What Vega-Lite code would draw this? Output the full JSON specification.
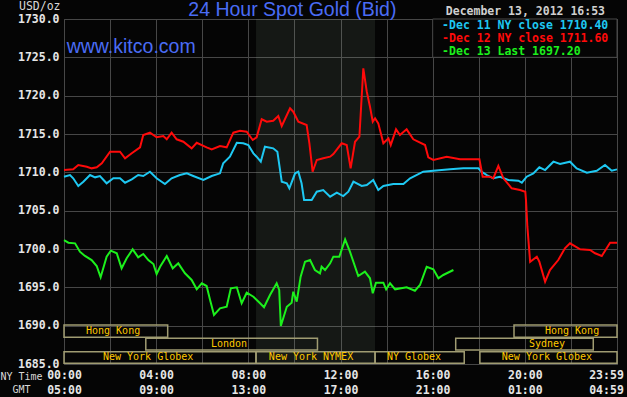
{
"$schema": "https://vega.github.io/schema/vega-lite/v6.json",
"width": 553, "height": 345,
"autosize": {"type": "none"},
"padding": {"left": 64, "top": 19, "right": 10, "bottom": 33},
"background": "#050505",
"config": {"view": {"stroke": "#4a4a4a", "strokeWidth": 1, "fill": "#050505"},
  "axis": {"labelOverlap": false, "labelFlush": false, "labelBound": false}},
"datasets": {
"prices": [
{"series":"Dec 11","hour":0,"price":1709.43},{"series":"Dec 11","hour":0.26,"price":1709.65},{"series":"Dec 11","hour":0.40,"price":1709.22},{"series":"Dec 11","hour":0.62,"price":1708.22},{"series":"Dec 11","hour":0.84,"price":1708.78},{"series":"Dec 11","hour":1.13,"price":1709.65},{"series":"Dec 11","hour":1.35,"price":1709.35},{"series":"Dec 11","hour":1.56,"price":1709.52},{"series":"Dec 11","hour":1.85,"price":1708.57},{"series":"Dec 11","hour":2.14,"price":1709.22},{"series":"Dec 11","hour":2.43,"price":1709.22},{"series":"Dec 11","hour":2.65,"price":1708.65},{"series":"Dec 11","hour":2.94,"price":1709.09},{"series":"Dec 11","hour":3.22,"price":1709.65},{"series":"Dec 11","hour":3.44,"price":1709.52},{"series":"Dec 11","hour":3.73,"price":1710.08},{"series":"Dec 11","hour":4.02,"price":1709.22},{"series":"Dec 11","hour":4.38,"price":1708.48},{"series":"Dec 11","hour":4.67,"price":1709.22},{"series":"Dec 11","hour":5.03,"price":1709.65},{"series":"Dec 11","hour":5.33,"price":1709.87},{"series":"Dec 11","hour":5.61,"price":1709.52},{"series":"Dec 11","hour":6.05,"price":1709.00},{"series":"Dec 11","hour":6.41,"price":1709.52},{"series":"Dec 11","hour":6.77,"price":1709.87},{"series":"Dec 11","hour":6.91,"price":1711.18},{"series":"Dec 11","hour":7.20,"price":1712.04},{"series":"Dec 11","hour":7.50,"price":1713.86},{"series":"Dec 11","hour":7.78,"price":1713.79},{"series":"Dec 11","hour":8.00,"price":1713.56},{"series":"Dec 11","hour":8.22,"price":1712.48},{"series":"Dec 11","hour":8.36,"price":1712.04},{"series":"Dec 11","hour":8.54,"price":1711.39},{"series":"Dec 11","hour":8.72,"price":1713.34},{"series":"Dec 11","hour":9.08,"price":1713.13},{"series":"Dec 11","hour":9.26,"price":1712.69},{"series":"Dec 11","hour":9.45,"price":1708.78},{"series":"Dec 11","hour":9.67,"price":1708.57},{"series":"Dec 11","hour":9.78,"price":1707.92},{"series":"Dec 11","hour":10.03,"price":1709.87},{"series":"Dec 11","hour":10.17,"price":1710.08},{"series":"Dec 11","hour":10.31,"price":1708.57},{"series":"Dec 11","hour":10.42,"price":1706.39},{"series":"Dec 11","hour":10.75,"price":1706.39},{"series":"Dec 11","hour":10.97,"price":1707.47},{"series":"Dec 11","hour":11.25,"price":1707.69},{"series":"Dec 11","hour":11.55,"price":1706.82},{"series":"Dec 11","hour":11.84,"price":1707.34},{"series":"Dec 11","hour":12.12,"price":1706.91},{"series":"Dec 11","hour":12.34,"price":1707.47},{"series":"Dec 11","hour":12.56,"price":1708.78},{"series":"Dec 11","hour":12.92,"price":1708.22},{"series":"Dec 11","hour":13.14,"price":1708.35},{"series":"Dec 11","hour":13.42,"price":1709.00},{"series":"Dec 11","hour":13.64,"price":1707.69},{"series":"Dec 11","hour":13.86,"price":1708.22},{"series":"Dec 11","hour":14.29,"price":1708.48},{"series":"Dec 11","hour":14.73,"price":1708.48},{"series":"Dec 11","hour":15.02,"price":1709.22},{"series":"Dec 11","hour":15.59,"price":1710.08},{"series":"Dec 11","hour":16.03,"price":1710.21},{"series":"Dec 11","hour":16.75,"price":1710.39},{"series":"Dec 11","hour":17.33,"price":1710.52},{"series":"Dec 11","hour":17.98,"price":1710.52},{"series":"Dec 11","hour":18.13,"price":1710.08},{"series":"Dec 11","hour":18.35,"price":1709.65},{"series":"Dec 11","hour":18.63,"price":1709.22},{"series":"Dec 11","hour":18.92,"price":1709.43},{"series":"Dec 11","hour":19.28,"price":1709.00},{"series":"Dec 11","hour":19.72,"price":1708.91},{"series":"Dec 11","hour":19.87,"price":1708.65},{"series":"Dec 11","hour":20.08,"price":1709.43},{"series":"Dec 11","hour":20.37,"price":1709.87},{"series":"Dec 11","hour":20.63,"price":1710.66},{"series":"Dec 11","hour":20.88,"price":1710.30},{"series":"Dec 11","hour":21.24,"price":1711.39},{"series":"Dec 11","hour":21.53,"price":1711.09},{"series":"Dec 11","hour":21.96,"price":1711.39},{"series":"Dec 11","hour":22.25,"price":1710.52},{"series":"Dec 11","hour":22.69,"price":1709.95},{"series":"Dec 11","hour":23.12,"price":1710.21},{"series":"Dec 11","hour":23.48,"price":1710.96},{"series":"Dec 11","hour":23.77,"price":1710.21},{"series":"Dec 11","hour":24,"price":1710.39},
{"series":"Dec 12","hour":0,"price":1710.30},{"series":"Dec 12","hour":0.40,"price":1710.39},{"series":"Dec 12","hour":0.62,"price":1710.96},{"series":"Dec 12","hour":0.99,"price":1710.73},{"series":"Dec 12","hour":1.20,"price":1710.52},{"series":"Dec 12","hour":1.42,"price":1710.66},{"series":"Dec 12","hour":1.64,"price":1711.18},{"series":"Dec 12","hour":2.00,"price":1712.69},{"series":"Dec 12","hour":2.43,"price":1712.69},{"series":"Dec 12","hour":2.65,"price":1711.83},{"series":"Dec 12","hour":2.94,"price":1712.48},{"series":"Dec 12","hour":3.30,"price":1713.26},{"series":"Dec 12","hour":3.44,"price":1714.87},{"series":"Dec 12","hour":3.73,"price":1715.17},{"series":"Dec 12","hour":4.02,"price":1714.57},{"series":"Dec 12","hour":4.31,"price":1714.74},{"series":"Dec 12","hour":4.46,"price":1714.31},{"series":"Dec 12","hour":4.67,"price":1715.17},{"series":"Dec 12","hour":4.89,"price":1714.31},{"series":"Dec 12","hour":5.18,"price":1713.99},{"series":"Dec 12","hour":5.54,"price":1713.13},{"series":"Dec 12","hour":5.76,"price":1713.86},{"series":"Dec 12","hour":6.19,"price":1713.26},{"series":"Dec 12","hour":6.41,"price":1713.00},{"series":"Dec 12","hour":6.77,"price":1713.43},{"series":"Dec 12","hour":7.06,"price":1713.26},{"series":"Dec 12","hour":7.35,"price":1715.17},{"series":"Dec 12","hour":7.64,"price":1715.43},{"series":"Dec 12","hour":7.93,"price":1715.30},{"series":"Dec 12","hour":8.19,"price":1714.22},{"series":"Dec 12","hour":8.36,"price":1714.57},{"series":"Dec 12","hour":8.58,"price":1716.92},{"series":"Dec 12","hour":8.80,"price":1716.60},{"series":"Dec 12","hour":9.08,"price":1716.73},{"series":"Dec 12","hour":9.30,"price":1717.35},{"series":"Dec 12","hour":9.45,"price":1716.04},{"series":"Dec 12","hour":9.81,"price":1718.35},{"series":"Dec 12","hour":9.95,"price":1717.91},{"series":"Dec 12","hour":10.17,"price":1716.60},{"series":"Dec 12","hour":10.53,"price":1716.17},{"series":"Dec 12","hour":10.65,"price":1713.79},{"series":"Dec 12","hour":10.79,"price":1710.08},{"series":"Dec 12","hour":10.97,"price":1711.61},{"series":"Dec 12","hour":11.25,"price":1711.83},{"series":"Dec 12","hour":11.55,"price":1712.04},{"series":"Dec 12","hour":11.69,"price":1712.39},{"series":"Dec 12","hour":12.05,"price":1713.79},{"series":"Dec 12","hour":12.27,"price":1713.56},{"series":"Dec 12","hour":12.44,"price":1710.52},{"series":"Dec 12","hour":12.63,"price":1713.99},{"series":"Dec 12","hour":12.82,"price":1714.65},{"series":"Dec 12","hour":12.99,"price":1723.57},{"series":"Dec 12","hour":13.14,"price":1720.52},{"series":"Dec 12","hour":13.28,"price":1718.56},{"series":"Dec 12","hour":13.40,"price":1716.60},{"series":"Dec 12","hour":13.50,"price":1717.05},{"series":"Dec 12","hour":13.64,"price":1716.39},{"series":"Dec 12","hour":13.86,"price":1713.79},{"series":"Dec 12","hour":14.08,"price":1714.44},{"series":"Dec 12","hour":14.18,"price":1713.56},{"series":"Dec 12","hour":14.41,"price":1715.61},{"series":"Dec 12","hour":14.58,"price":1714.87},{"series":"Dec 12","hour":14.87,"price":1715.61},{"series":"Dec 12","hour":15.16,"price":1714.31},{"series":"Dec 12","hour":15.67,"price":1713.56},{"series":"Dec 12","hour":15.81,"price":1711.96},{"series":"Dec 12","hour":16.03,"price":1711.61},{"series":"Dec 12","hour":16.61,"price":1712.04},{"series":"Dec 12","hour":17.19,"price":1711.70},{"series":"Dec 12","hour":18.03,"price":1711.70},{"series":"Dec 12","hour":18.17,"price":1709.43},{"series":"Dec 12","hour":18.49,"price":1709.43},{"series":"Dec 12","hour":18.63,"price":1709.22},{"series":"Dec 12","hour":18.85,"price":1710.83},{"series":"Dec 12","hour":19.07,"price":1709.22},{"series":"Dec 12","hour":19.43,"price":1707.92},{"series":"Dec 12","hour":19.79,"price":1707.69},{"series":"Dec 12","hour":20.02,"price":1707.47},{"series":"Dec 12","hour":20.05,"price":1706.39},{"series":"Dec 12","hour":20.11,"price":1702.91},{"series":"Dec 12","hour":20.23,"price":1698.34},{"series":"Dec 12","hour":20.52,"price":1699.00},{"series":"Dec 12","hour":20.63,"price":1698.34},{"series":"Dec 12","hour":20.88,"price":1695.73},{"series":"Dec 12","hour":21.09,"price":1697.26},{"series":"Dec 12","hour":21.45,"price":1698.56},{"series":"Dec 12","hour":21.74,"price":1700.09},{"series":"Dec 12","hour":21.96,"price":1700.74},{"series":"Dec 12","hour":22.40,"price":1699.96},{"series":"Dec 12","hour":22.83,"price":1699.87},{"series":"Dec 12","hour":23.05,"price":1699.44},{"series":"Dec 12","hour":23.34,"price":1699.09},{"series":"Dec 12","hour":23.70,"price":1700.82},{"series":"Dec 12","hour":24,"price":1700.82},
{"series":"Dec 13","hour":0,"price":1701.17},{"series":"Dec 13","hour":0.19,"price":1700.82},{"series":"Dec 13","hour":0.48,"price":1700.74},{"series":"Dec 13","hour":0.69,"price":1699.65},{"series":"Dec 13","hour":0.91,"price":1699.09},{"series":"Dec 13","hour":1.20,"price":1698.56},{"series":"Dec 13","hour":1.42,"price":1697.78},{"series":"Dec 13","hour":1.59,"price":1696.31},{"series":"Dec 13","hour":1.85,"price":1699.00},{"series":"Dec 13","hour":2.03,"price":1699.78},{"series":"Dec 13","hour":2.29,"price":1699.44},{"series":"Dec 13","hour":2.50,"price":1697.48},{"series":"Dec 13","hour":2.72,"price":1698.79},{"series":"Dec 13","hour":2.98,"price":1699.96},{"series":"Dec 13","hour":3.22,"price":1698.92},{"series":"Dec 13","hour":3.44,"price":1699.35},{"series":"Dec 13","hour":3.66,"price":1698.56},{"series":"Dec 13","hour":3.88,"price":1698.04},{"series":"Dec 13","hour":4.02,"price":1696.74},{"series":"Dec 13","hour":4.17,"price":1697.69},{"series":"Dec 13","hour":4.46,"price":1699.09},{"series":"Dec 13","hour":4.72,"price":1697.48},{"series":"Dec 13","hour":4.96,"price":1698.13},{"series":"Dec 13","hour":5.25,"price":1696.83},{"series":"Dec 13","hour":5.54,"price":1695.96},{"series":"Dec 13","hour":5.76,"price":1694.74},{"series":"Dec 13","hour":5.98,"price":1695.53},{"series":"Dec 13","hour":6.19,"price":1695.17},{"series":"Dec 13","hour":6.34,"price":1693.35},{"series":"Dec 13","hour":6.51,"price":1691.39},{"series":"Dec 13","hour":6.77,"price":1692.26},{"series":"Dec 13","hour":7.06,"price":1692.47},{"series":"Dec 13","hour":7.24,"price":1694.87},{"series":"Dec 13","hour":7.50,"price":1695.00},{"series":"Dec 13","hour":7.71,"price":1692.92},{"series":"Dec 13","hour":7.93,"price":1694.30},{"series":"Dec 13","hour":8.22,"price":1693.78},{"series":"Dec 13","hour":8.51,"price":1692.92},{"series":"Dec 13","hour":8.68,"price":1692.40},{"series":"Dec 13","hour":8.94,"price":1694.00},{"series":"Dec 13","hour":9.23,"price":1695.53},{"series":"Dec 13","hour":9.34,"price":1694.65},{"series":"Dec 13","hour":9.41,"price":1689.96},{"series":"Dec 13","hour":9.67,"price":1692.47},{"series":"Dec 13","hour":9.88,"price":1693.00},{"series":"Dec 13","hour":9.95,"price":1694.43},{"series":"Dec 13","hour":10.10,"price":1693.13},{"series":"Dec 13","hour":10.27,"price":1696.39},{"series":"Dec 13","hour":10.46,"price":1698.34},{"series":"Dec 13","hour":10.68,"price":1698.56},{"series":"Dec 13","hour":10.89,"price":1697.26},{"series":"Dec 13","hour":11.11,"price":1696.83},{"series":"Dec 13","hour":11.18,"price":1697.69},{"series":"Dec 13","hour":11.33,"price":1697.26},{"series":"Dec 13","hour":11.55,"price":1698.13},{"series":"Dec 13","hour":11.69,"price":1699.00},{"series":"Dec 13","hour":11.95,"price":1699.00},{"series":"Dec 13","hour":12.20,"price":1701.26},{"series":"Dec 13","hour":12.41,"price":1699.65},{"series":"Dec 13","hour":12.77,"price":1696.48},{"series":"Dec 13","hour":13.06,"price":1697.04},{"series":"Dec 13","hour":13.28,"price":1696.18},{"series":"Dec 13","hour":13.40,"price":1694.22},{"series":"Dec 13","hour":13.54,"price":1695.60},{"series":"Dec 13","hour":13.86,"price":1695.60},{"series":"Dec 13","hour":13.98,"price":1694.74},{"series":"Dec 13","hour":14.15,"price":1695.53},{"series":"Dec 13","hour":14.37,"price":1694.74},{"series":"Dec 13","hour":14.87,"price":1695.00},{"series":"Dec 13","hour":15.23,"price":1694.56},{"series":"Dec 13","hour":15.45,"price":1695.30},{"series":"Dec 13","hour":15.74,"price":1697.69},{"series":"Dec 13","hour":16.03,"price":1697.35},{"series":"Dec 13","hour":16.25,"price":1696.18},{"series":"Dec 13","hour":16.46,"price":1696.61},{"series":"Dec 13","hour":16.90,"price":1697.26}
],
"sessions": [
{"session":"Hong Kong","hour":0,"hour2":4.5,"price":1690.09,"price2":1688.48,"label_hour":2.13,"label_price":1689.30},
{"session":"London","hour":3.55,"hour2":11.0,"price":1688.35,"price2":1686.83,"label_hour":7.16,"label_price":1687.61},
{"session":"New York Globex","hour":0,"hour2":8.333,"price":1686.6,"price2":1685.09,"label_hour":3.65,"label_price":1685.85},
{"session":"New York NYMEX","hour":8.333,"hour2":13.5,"price":1686.6,"price2":1685.09,"label_hour":10.72,"label_price":1685.85},
{"session":"NY Globex","hour":13.5,"hour2":17.37,"price":1686.6,"price2":1685.09,"label_hour":15.19,"label_price":1685.85},
{"session":"New York Globex","hour":18.05,"hour2":24,"price":1686.6,"price2":1685.09,"label_hour":20.96,"label_price":1685.85},
{"session":"Sydney","hour":17.0,"hour2":22.97,"price":1688.35,"price2":1686.83,"label_hour":20.96,"label_price":1687.61},
{"session":"Hong Kong","hour":19.53,"hour2":24,"price":1690.09,"price2":1688.48,"label_hour":22.05,"label_price":1689.30}
]
},
"layer": [
{"data": {"values": [{"session": "New York NYMEX", "hour": 8.333, "hour2": 13.5}]},
 "mark": {"type": "rect", "fill": "#a5c3a5", "opacity": 0.1},
 "encoding": {
  "x": {"field": "hour", "type": "quantitative",
   "scale": {"domain": [0, 24], "nice": false, "zero": false},
   "axis": {"values": [0,2,4,6,8,10,12,14,16,18,20,22,24], "tickCount": 30,
    "labelExpr": "datum.value == 24 ? ['23:59', '04:59'] : (datum.value % 4 == 0 ? [format(datum.value, '02d') + ':00', format((datum.value + 5) % 24, '02d') + ':00'] : '')",
    "labelFlush": false, "labelOverlap": false, "labelBound": false,
    "labelFont": "DejaVu Sans Mono", "labelFontSize": 11.5, "labelFontWeight": "bold", "labelColor": "#e6e6e6",
    "labelBaseline": "top", "labelPadding": 5, "labelLineHeight": 15.5,
    "labelOffset": {"condition": {"test": "datum.value == 24", "value": -11}, "value": 0},
    "ticks": false, "domain": false, "grid": true, "gridColor": "#474747", "gridOpacity": 1,
    "title": ["NY Time", "GMT"], "titleX": -43, "titleY": 7, "titleAlign": "center", "titleBaseline": "top",
    "titleLineHeight": 13.5, "titleFont": "DejaVu Sans Mono", "titleFontSize": 10, "titleFontWeight": "normal", "titleColor": "#d8d8d8"}},
  "x2": {"field": "hour2"}}},
{"data": {"name": "prices"},
 "mark": {"type": "line", "strokeWidth": 2},
 "encoding": {
  "x": {"field": "hour", "type": "quantitative"},
  "y": {"field": "price", "type": "quantitative",
   "scale": {"domain": [1685, 1730], "nice": false, "zero": false},
   "axis": {"values": [1685,1690,1695,1700,1705,1710,1715,1720,1725,1730], "tickCount": 30, "format": ".1f",
    "labelFont": "DejaVu Sans Mono", "labelFontSize": 11.5, "labelFontWeight": "bold", "labelColor": "#e6e6e6",
    "labelPadding": 5, "labelOverlap": false, "labelFlush": false, "labelBound": false,
    "ticks": false, "domain": false, "grid": true, "gridColor": "#474747", "gridOpacity": 1,
    "title": "USD/oz", "titleAngle": 0, "titleAlign": "right", "titleBaseline": "middle", "titleX": -4, "titleY": -12.5,
    "titleFont": "DejaVu Sans Mono", "titleFontSize": 11.5, "titleFontWeight": "normal", "titleColor": "#d8d8d8"}},
  "color": {"field": "series", "type": "nominal",
   "scale": {"domain": ["Dec 11", "Dec 12", "Dec 13"], "range": ["#1ec8f2", "#ff0a0a", "#1cf01c"]}, "legend": null}}},
{"data": {"values": [{"box": "legend", "hour": 16, "hour2": 24, "price": 1725, "price2": 1730}]},
 "mark": {"type": "rect", "fill": "#050505", "stroke": "#4a4a4a", "strokeWidth": 1},
 "encoding": {"x": {"field": "hour", "type": "quantitative"}, "x2": {"field": "hour2"},
  "y": {"field": "price", "type": "quantitative"}, "y2": {"field": "price2"}}},
{"data": {"values": [
  {"series": "Dec 11", "label": "-Dec 11 NY close 1710.40", "hour": 16.41, "price": 1729.15},
  {"series": "Dec 12", "label": "-Dec 12 NY close 1711.60", "hour": 16.41, "price": 1727.41},
  {"series": "Dec 13", "label": "-Dec 13 Last 1697.20", "hour": 16.41, "price": 1725.74}]},
 "mark": {"type": "text", "align": "left", "baseline": "middle", "font": "DejaVu Sans Mono", "fontSize": 11.5, "fontWeight": "bold"},
 "encoding": {"x": {"field": "hour", "type": "quantitative"}, "y": {"field": "price", "type": "quantitative"},
  "text": {"field": "label"},
  "color": {"field": "series", "type": "nominal", "legend": null}}},
{"data": {"name": "sessions"},
 "mark": {"type": "rect", "fillOpacity": 0, "stroke": "#a09c72", "strokeWidth": 1.5},
 "encoding": {"x": {"field": "hour", "type": "quantitative"}, "x2": {"field": "hour2"},
  "y": {"field": "price", "type": "quantitative"}, "y2": {"field": "price2"}}},
{"data": {"name": "sessions"},
 "mark": {"type": "text", "align": "center", "baseline": "middle", "font": "DejaVu Sans Mono", "fontSize": 10, "color": "#ffc800"},
 "encoding": {"x": {"field": "label_hour", "type": "quantitative"}, "y": {"field": "label_price", "type": "quantitative"},
  "text": {"field": "session"}}},
{"data": {"values": [{"text": "24 Hour Spot Gold (Bid)", "hour": 5.395, "price": 1730.4}]},
 "mark": {"type": "text", "align": "left", "baseline": "alphabetic", "font": "Liberation Sans", "fontSize": 19.5, "color": "#4a6cf5"},
 "encoding": {"x": {"field": "hour", "type": "quantitative"}, "y": {"field": "price", "type": "quantitative"}, "text": {"field": "text"}}},
{"data": {"values": [{"text": "www.kitco.com", "hour": 0.117, "price": 1725.6}]},
 "mark": {"type": "text", "align": "left", "baseline": "alphabetic", "font": "Liberation Sans", "fontSize": 19.5, "color": "#4a6cf5"},
 "encoding": {"x": {"field": "hour", "type": "quantitative"}, "y": {"field": "price", "type": "quantitative"}, "text": {"field": "text"}}},
{"data": {"values": [{"text": "December 13, 2012 16:53", "hour": 16.57, "price": 1730.94}]},
 "mark": {"type": "text", "align": "left", "baseline": "middle", "font": "DejaVu Sans Mono", "fontSize": 11.5, "fontWeight": "bold", "color": "#cfcfcf"},
 "encoding": {"x": {"field": "hour", "type": "quantitative"}, "y": {"field": "price", "type": "quantitative"}, "text": {"field": "text"}}}
]
}
